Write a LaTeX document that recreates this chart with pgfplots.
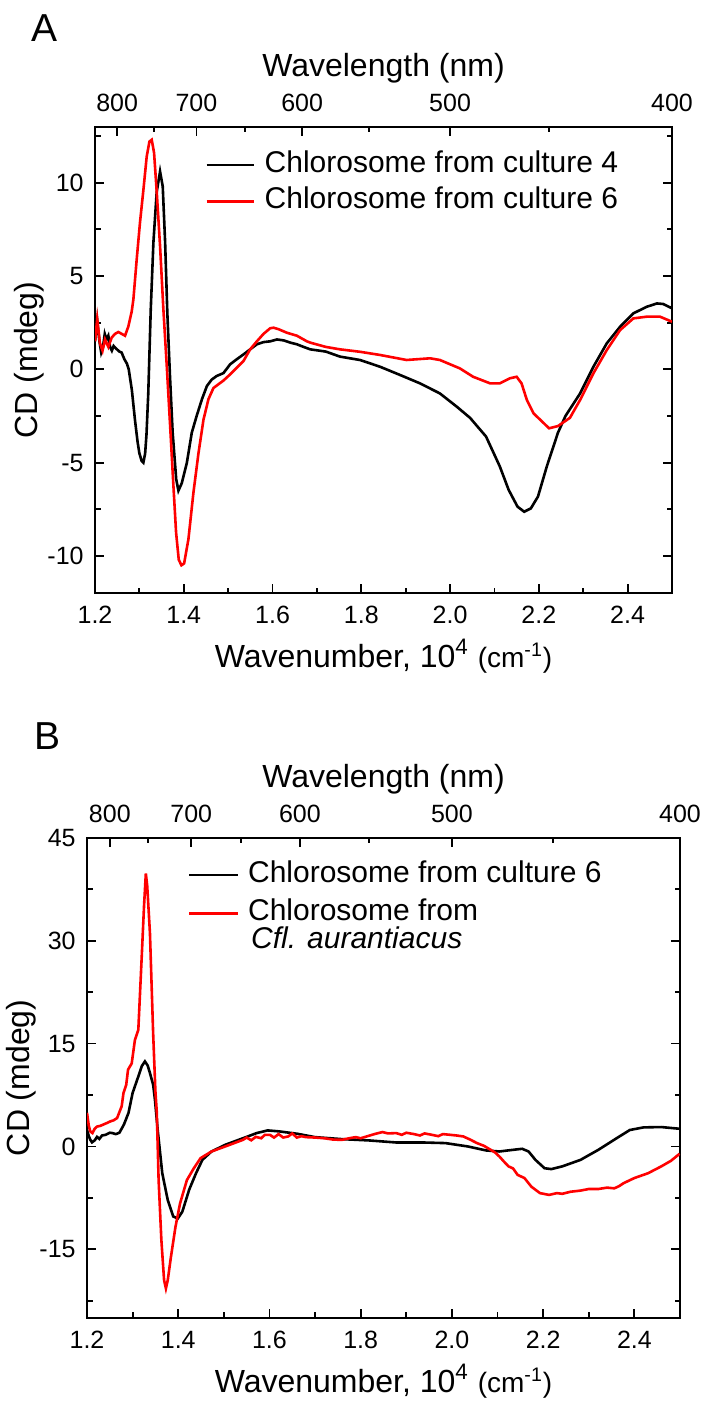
\documentclass[border=0pt]{standalone}
\usepackage{pgfplots}
\pgfplotsset{compat=1.18}
\usepackage{fontspec}
\setmainfont{Liberation Sans}
\newcommand{\tickfont}{\fontsize{12.5bp}{15bp}\selectfont}
\newcommand{\labfont}{\fontsize{16bp}{19bp}\selectfont}
\newcommand{\legfont}{\fontsize{15bp}{18bp}\selectfont}
\begin{document}
\begin{tikzpicture}
\path[use as bounding box] (0,0) rectangle (353bp,702bp);
\pgfplotsset{
  cdbase/.style={
    scale only axis,
    xmin=1.2, xmax=2.5,
    axis line style={line width=1bp},
    every tick/.style={line width=0.9bp, black},
    major tick length=4.5bp, minor tick length=2.75bp,
    tick align=inside,
    every tick label/.append style={font=\tickfont},
  },
  bottomx/.style={
    xtick pos=left,
    xtick={1.2,1.4,1.6,1.8,2.0,2.2,2.4},
    xticklabels={1.2,1.4,1.6,1.8,2.0,2.2,2.4},
    minor xtick={1.3,1.5,1.7,1.9,2.1,2.3},
    xticklabel style={anchor=base, yshift=-15bp},
    yticklabel style={anchor=east, inner sep=0pt, xshift=-5.5bp},
    every axis x label/.style={at={(axis description cs:0.5,0)}, anchor=base, yshift=-37bp, font=\labfont},
    xlabel={Wavenumber, 10\textsuperscript{4} {\fontsize{14bp}{16bp}\selectfont(cm\textsuperscript{-1})}},
    ylabel={CD (mdeg)},
    legend cell align=left,
  },
  topx/.style={
    scale only axis,
    xmin=1.2, xmax=2.5, ymin=0, ymax=1,
    axis x line*=top, axis y line=none,
    axis line style={line width=1bp},
    every tick/.style={line width=0.9bp, black},
    major tick length=4.5bp, minor tick length=2.75bp,
    xtick align=inside,
    xtick pos=right, xticklabel pos=right,
    xtick={1.25,1.428571,1.666667,2.0,2.5},
    xticklabels={800,700,600,500,400},
    minor xtick={1.333333,1.538462,1.818182,2.222222},
    ytick=\empty,
    every tick label/.append style={font=\tickfont},
    xticklabel style={anchor=base, yshift=7.5bp},
    every axis x label/.style={at={(axis description cs:0.5,1)}, anchor=base, yshift=25bp, font=\labfont},
    xlabel={Wavelength (nm)},
  },
}

% ---------------- Panel A ----------------
\begin{axis}[cdbase, bottomx,
  at={(47.5bp,405.35bp)}, anchor=south west, width=288.5bp, height=233.3bp,
  ymin=-12, ymax=13,
  ytick={-10,-5,0,5,10}, yticklabels={-10,-5,0,5,10},
  minor ytick={-7.5,-2.5,2.5,7.5,12.5},
  every axis y label/.style={at={(axis description cs:-0.0988,0.5)}, rotate=90, anchor=base, font=\labfont},
  legend style={at={(axis description cs:0.1906,0.949)}, anchor=north west, draw=none, fill=none,
    inner sep=0pt, row sep=4.35bp, column sep=4.85bp, font=\legfont,
    nodes={inner sep=0pt, text height=10.7bp, text depth=3.3bp}},
  legend image code/.code={\draw[#1, line width=1.3bp] (0bp,0bp) -- (23.5bp,0bp);},
]
\addplot[black, line width=1.3bp] coordinates {
(1.200,1.5) (1.205,2.6) (1.210,1.5) (1.214,0.9) (1.218,1.2) (1.222,1.9) (1.226,1.6) (1.230,1.8)
(1.234,1.2) (1.238,1.0) (1.242,1.25) (1.248,1.1) (1.255,0.95) (1.260,0.9) (1.266,0.55) (1.272,0.3)
(1.276,0.0) (1.283,-1.1) (1.290,-2.7) (1.296,-3.9) (1.300,-4.5) (1.305,-4.9) (1.309,-5.0) (1.313,-4.5)
(1.316,-3.5) (1.320,-1.3) (1.3256,3.2) (1.3316,6.8) (1.339,9.5) (1.3466,10.6) (1.3526,9.8) (1.358,6.8)
(1.363,3.0) (1.369,-0.4) (1.375,-3.4) (1.383,-5.9) (1.388,-6.5) (1.3955,-6.1) (1.407,-5.0) (1.418,-3.4)
(1.429,-2.5) (1.441,-1.6) (1.452,-0.9) (1.463,-0.55) (1.474,-0.36) (1.4895,-0.2) (1.5045,0.27) (1.5195,0.54)
(1.5346,0.8) (1.5496,1.07) (1.5647,1.34) (1.58,1.46) (1.595,1.5) (1.61,1.6) (1.625,1.55) (1.64,1.43)
(1.655,1.34) (1.67,1.2) (1.685,1.07) (1.72,0.95) (1.752,0.68) (1.797,0.5) (1.842,0.14) (1.887,-0.3)
(1.932,-0.75) (1.977,-1.29) (2.015,-2.0) (2.045,-2.6) (2.081,-3.6) (2.112,-5.2) (2.132,-6.46) (2.152,-7.36)
(2.167,-7.63) (2.182,-7.45) (2.198,-6.82) (2.218,-5.2) (2.243,-3.4) (2.26,-2.5) (2.293,-1.29) (2.323,0.14)
(2.353,1.39) (2.383,2.28) (2.413,3.0) (2.443,3.35) (2.466,3.53) (2.48,3.5) (2.5,3.27)
};
\addlegendentry{Chlorosome from culture 4}
\addplot[red, line width=1.3bp] coordinates {
(1.200,1.5) (1.205,2.7) (1.211,1.4) (1.217,1.0) (1.2226,1.6) (1.2301,1.2) (1.2376,1.7) (1.2451,1.9)
(1.2526,2.0) (1.2602,1.9) (1.2677,1.8) (1.2752,2.3) (1.2827,3.1) (1.2865,3.75) (1.294,5.9) (1.3015,7.9)
(1.309,9.6) (1.3165,11.4) (1.3226,12.2) (1.3278,12.3) (1.3331,11.6) (1.3391,9.5) (1.3466,6.6) (1.3541,3.2)
(1.3617,0.18) (1.3692,-3.0) (1.3767,-6.25) (1.3827,-8.75) (1.3887,-10.2) (1.3947,-10.5) (1.4008,-10.4) (1.4105,-9.1)
(1.4218,-6.6) (1.4331,-4.5) (1.4444,-2.7) (1.4556,-1.6) (1.4669,-1.0) (1.4782,-0.8) (1.4895,-0.6) (1.5045,-0.27)
(1.5195,0.09) (1.5346,0.45) (1.5496,1.07) (1.5647,1.5) (1.5797,1.9) (1.5947,2.2) (1.6023,2.23) (1.6135,2.15)
(1.6323,1.96) (1.6549,1.8) (1.6774,1.5) (1.685,1.43) (1.72,1.2) (1.752,1.07) (1.797,0.94) (1.842,0.77)
(1.902,0.5) (1.955,0.59) (1.977,0.5) (2.022,0.05) (2.052,-0.4) (2.09,-0.75) (2.112,-0.75) (2.135,-0.48)
(2.15,-0.4) (2.161,-0.75) (2.173,-1.64) (2.188,-2.36) (2.203,-2.7) (2.223,-3.16) (2.243,-3.04) (2.27,-2.6)
(2.293,-1.64) (2.323,-0.21) (2.353,1.03) (2.383,2.1) (2.413,2.73) (2.443,2.82) (2.473,2.82) (2.5,2.55)
};
\addlegendentry{Chlorosome from culture 6}
\end{axis}
\begin{axis}[topx, at={(47.5bp,405.35bp)}, anchor=south west, width=288.5bp, height=233.3bp]
\end{axis}

% ---------------- Panel B ----------------
\begin{axis}[cdbase, bottomx,
  at={(43.5bp,43bp)}, anchor=south west, width=296.5bp, height=240.15bp,
  ymin=-25, ymax=45,
  ytick={-15,0,15,30,45}, yticklabels={-15,0,15,30,45},
  minor ytick={-22.5,-7.5,7.5,22.5,37.5},
  every axis y label/.style={at={(axis description cs:-0.0973,0.5)}, rotate=90, anchor=base, font=\labfont},
  legend style={at={(axis description cs:0.1698,0.9525)}, anchor=north west, draw=none, fill=none,
    inner sep=0pt, row sep=5.15bp, column sep=4.2bp, font=\legfont,
    nodes={inner sep=0pt, text height=10.7bp, text depth=3.3bp}},
  legend image code/.code={\draw[#1, line width=1.3bp] (0bp,0bp) -- (24.5bp,0bp);},
]
\addplot[black, line width=1.3bp] coordinates {
(1.2,2.4) (1.204,1.5) (1.207,1.0) (1.211,0.6) (1.217,0.9) (1.222,1.4) (1.227,1.1) (1.233,1.6)
(1.241,1.7) (1.25,2.0) (1.256,1.95) (1.263,1.8) (1.271,2.0) (1.276,2.6) (1.281,3.2) (1.291,4.9)
(1.3,7.8) (1.3125,10.2) (1.32,11.7) (1.327,12.4) (1.333,11.8) (1.338,10.7) (1.345,9.0) (1.349,6.8)
(1.355,2.4) (1.365,-3.9) (1.377,-7.8) (1.389,-10.2) (1.399,-10.5) (1.409,-9.5) (1.424,-6.3) (1.439,-3.9)
(1.453,-1.95) (1.473,-0.73) (1.503,0.24) (1.542,1.2) (1.572,1.95) (1.596,2.34) (1.621,2.2) (1.661,1.85)
(1.7,1.36) (1.759,1.07) (1.818,0.88) (1.878,0.58) (1.937,0.58) (1.986,0.49) (2.035,0.0) (2.075,-0.58)
(2.104,-0.73) (2.134,-0.49) (2.154,-0.34) (2.168,-0.73) (2.183,-1.95) (2.203,-3.17) (2.218,-3.3) (2.242,-2.9)
(2.282,-1.95) (2.321,-0.49) (2.361,1.2) (2.39,2.4) (2.42,2.78) (2.459,2.83) (2.499,2.58)
};
\addlegendentry{Chlorosome from culture 6}
\addplot[red, line width=1.3bp] coordinates {
(1.2,4.9) (1.204,3.0) (1.207,2.2) (1.212,1.95) (1.217,2.6) (1.222,2.9) (1.229,3.0) (1.236,3.2)
(1.243,3.4) (1.251,3.65) (1.258,3.8) (1.266,4.14) (1.271,5.0) (1.276,5.85) (1.28,7.8) (1.286,9.0)
(1.29,11.2) (1.298,12.1) (1.305,15.5) (1.3125,17.0) (1.316,22) (1.32,27.7) (1.325,35) (1.329,39.8)
(1.332,38) (1.338,31.1) (1.345,16.5) (1.350,8) (1.353,5) (1.357,-4.9) (1.363,-13.6) (1.369,-19.5)
(1.373,-20.7) (1.377,-19.5) (1.384,-16.1) (1.394,-11.7) (1.404,-8.3) (1.419,-4.9) (1.434,-3.2) (1.449,-1.7)
(1.473,-0.73) (1.503,0.0) (1.542,0.97) (1.55,1.3) (1.56,0.9) (1.57,1.4) (1.582,1.2) (1.59,1.7)
(1.601,1.7) (1.61,1.3) (1.62,1.8) (1.63,1.3) (1.641,1.46) (1.65,1.9) (1.66,1.3) (1.67,1.5)
(1.68,1.36) (1.70,1.3) (1.72,1.2) (1.74,1.0) (1.759,0.97) (1.775,1.2) (1.789,1.36) (1.80,1.2)
(1.818,1.56) (1.83,1.8) (1.848,2.1) (1.86,1.9) (1.878,1.95) (1.89,1.7) (1.90,2.0) (1.917,1.8)
(1.93,1.6) (1.94,1.9) (1.956,1.7) (1.97,1.5) (1.98,1.8) (1.996,1.7) (2.01,1.6) (2.025,1.46)
(2.04,1.0) (2.055,0.49) (2.07,0.1) (2.085,-0.49) (2.095,-0.9) (2.104,-1.46) (2.114,-2.2) (2.124,-2.9)
(2.134,-3.2) (2.144,-4.14) (2.159,-4.6) (2.174,-5.85) (2.193,-6.8) (2.213,-7.06) (2.23,-6.8) (2.242,-6.9)
(2.26,-6.6) (2.282,-6.43) (2.30,-6.2) (2.321,-6.2) (2.34,-6.0) (2.356,-6.1) (2.366,-5.8) (2.376,-5.36)
(2.4,-4.6) (2.43,-3.9) (2.459,-2.9) (2.48,-2.1) (2.499,-1.07)
};
\addlegendentry{Chlorosome from}
\addlegendimage{empty legend}
\addlegendentry{\raisebox{5bp}{\hspace*{1.5bp}\textit{Cfl. aurantiacus}}}
\end{axis}
\begin{axis}[topx, at={(43.5bp,43bp)}, anchor=south west, width=296.5bp, height=240.15bp]
\end{axis}

\node[anchor=base west, inner sep=0pt, font=\fontsize{19.5bp}{22bp}\selectfont] at (15.75bp,681.15bp) {A};
\node[anchor=base west, inner sep=0pt, font=\fontsize{19.5bp}{22bp}\selectfont] at (16.9bp,327bp) {B};
\end{tikzpicture}
\end{document}
